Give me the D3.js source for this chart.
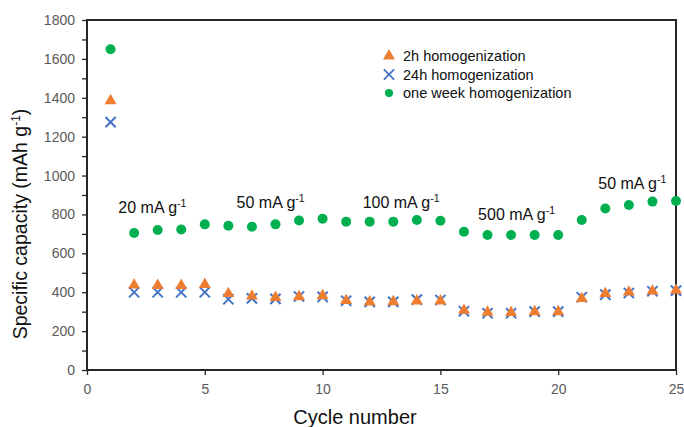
<!DOCTYPE html>
<html>
<head>
<meta charset="utf-8">
<script src="https://cdn.jsdelivr.net/npm/d3@7"></script>
<style>
  body { margin: 0; background: #fff; }
  text { font-family: "Liberation Sans", Arial, sans-serif; }
</style>
</head>
<body>
<svg id="chart" width="684" height="427"></svg>
<script>
// cycle numbers and capacities (mAh g-1)
const cycles = d3.range(1, 26);
const cap2h = [1390, 442, 440, 440, 445, 398, 385, 378, 382, 387, 362, 355, 356, 360, 360, 312, 302, 300, 305, 305, 372, 398, 406, 411, 415];
const cap24h = [1275, 400, 400, 400, 400, 364, 368, 366, 378, 376, 356, 350, 350, 362, 360, 302, 292, 292, 300, 300, 374, 388, 396, 405, 408];
const capWeek = [1650, 705, 720, 723, 749, 742, 737, 749, 769, 778, 763, 763, 763, 771, 768, 711, 694, 694, 694, 694, 771, 831, 849, 866, 869];
const seriesNames = ["2h homogenization", "24h homogenization", "one week homogenization"];
const rateLabels = [
  {rate: "20", cycle: 1.33, cap: 808},
  {rate: "50", cycle: 6.35, cap: 833},
  {rate: "100", cycle: 11.7, cap: 833},
  {rate: "500", cycle: 16.6, cap: 772},
  {rate: "50", cycle: 21.7, cap: 931}
];
const xTicks = [0, 5, 10, 15, 20, 25];
const yTicks = d3.range(0, 1801, 200);

const svg = d3.select('#chart');
const x = d3.scaleLinear().domain([0, 25]).range([87, 676]);
const y = d3.scaleLinear().domain([0, 1800]).range([370, 20]);
const colors = ['#ED7D31', '#4472C4', '#00B050'];
const axisColor = '#262626';

// frame
svg.append('rect')
  .attr('x', x(0)).attr('y', y(1800))
  .attr('width', x(25) - x(0)).attr('height', y(0) - y(1800))
  .attr('fill', 'none').attr('stroke', axisColor).attr('stroke-width', 2);

// y axis
const yAxis = svg.append('g')
  .attr('transform', `translate(${x(0)},0)`)
  .call(d3.axisLeft(y).tickValues(d3.range(0, 1801, 100)).tickSize(5)
    .tickFormat(d => yTicks.includes(d) ? d : ''));
yAxis.select('.domain').remove();
yAxis.selectAll('line').attr('stroke', axisColor).attr('stroke-width', 1.3);
yAxis.selectAll('text').attr('fill', '#595959').style('font-size', '14px')
  .attr('x', -12).style('font-family', '"Liberation Sans", Arial, sans-serif');

// x axis
const xAxis = svg.append('g')
  .attr('transform', `translate(0,${y(0)})`)
  .call(d3.axisBottom(x).tickValues(xTicks).tickSize(5));
xAxis.select('.domain').remove();
xAxis.selectAll('line').attr('stroke', axisColor).attr('stroke-width', 1.3);
xAxis.selectAll('text').attr('fill', '#595959').style('font-size', '14px')
  .attr('y', 14).style('font-family', '"Liberation Sans", Arial, sans-serif');

// axis titles
svg.append('text')
  .attr('x', 355).attr('y', 424)
  .attr('text-anchor', 'middle').style('font-size', '20px').attr('fill', '#111')
  .text('Cycle number');
const yt = svg.append('text')
  .attr('transform', 'translate(27,224) rotate(-90)')
  .attr('text-anchor', 'middle').style('font-size', '19.5px').attr('fill', '#111');
yt.append('tspan').text('Specific capacity (mAh g');
yt.append('tspan').attr('dy', -7).style('font-size', '12px').text('-1');
yt.append('tspan').attr('dy', 7).text(')');

// markers
const tri = d3.symbol().type(d3.symbolTriangle).size(62);
const cross = d3.symbol().type(d3.symbolX).size(70);

svg.append('g').selectAll('path').data(cycles).join('path')
  .attr('transform', (c, i) => `translate(${x(c)},${y(cap24h[i])})`)
  .attr('d', cross)
  .attr('fill', 'none').attr('stroke', colors[1]).attr('stroke-width', 2);

svg.append('g').selectAll('path').data(cycles).join('path')
  .attr('transform', (c, i) => `translate(${x(c)},${y(cap2h[i]) + 1})`)
  .attr('d', tri)
  .attr('fill', colors[0]);

svg.append('g').selectAll('circle').data(cycles).join('circle')
  .attr('cx', c => x(c))
  .attr('cy', (c, i) => y(capWeek[i]))
  .attr('r', 5)
  .attr('fill', colors[2]);

// rate labels
rateLabels.forEach(l => {
  const t = svg.append('text')
    .attr('x', x(l.cycle)).attr('y', y(l.cap))
    .style('font-size', '16px').attr('fill', '#111');
  t.append('tspan').text(`${l.rate} mA g`);
  t.append('tspan').attr('dy', -6).style('font-size', '10.5px').text('-1');
});

// legend
const legend = svg.append('g').attr('transform', 'translate(389,56)');
seriesNames.forEach((name, i) => {
  const g = legend.append('g').attr('transform', `translate(0,${i * 18.5})`);
  if (i === 0) g.append('path').attr('d', tri).attr('fill', colors[0]);
  if (i === 1) g.append('path').attr('d', cross).attr('fill', 'none')
    .attr('stroke', colors[1]).attr('stroke-width', 1.8);
  if (i === 2) g.append('circle').attr('r', 4).attr('fill', colors[2]);
  g.append('text').attr('x', 14).attr('y', 5)
    .style('font-size', '14.5px').attr('fill', '#111').text(name);
});
</script>
</body>
</html>
